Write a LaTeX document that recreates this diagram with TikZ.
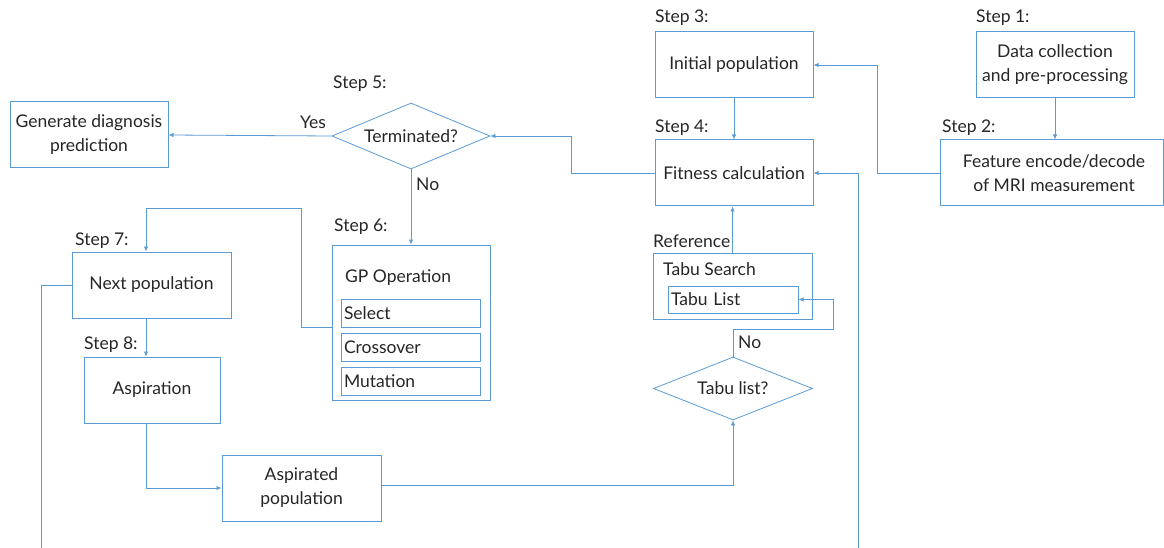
\documentclass[tikz,border=0pt]{standalone}
\usepackage{fontspec}
\setmainfont{Lato}
\usetikzlibrary{shapes.geometric,arrows.meta,calc}
\definecolor{ln}{HTML}{5B9BD5}
\definecolor{tx}{HTML}{262626}
\begin{document}
\begin{tikzpicture}[x=1pt,y=-1pt,
  every node/.style={text=tx,font=\fontsize{17.5}{24}\selectfont},
  box/.style={draw=ln,line width=1pt,inner sep=1pt,align=center},
  sub/.style={draw=ln,line width=1pt,inner sep=3pt,minimum width=139pt,minimum height=28pt,text width=133pt,align=left},
  dia/.style={draw=ln,line width=0.8pt,diamond,aspect=2.4,inner sep=0pt},
  lab/.style={inner sep=0pt,anchor=west},
  arr/.style={draw=ln,line width=0.8pt,-{Latex[length=5pt,width=4.5pt]}},
  con/.style={draw=ln,line width=0.8pt}]
\useasboundingbox (0,0) rectangle (1164,548);
\clip (0,0) rectangle (1164,548);
% nodes
\node[box,minimum width=158pt,minimum height=66pt] (gen) at (89,135) {Generate diagnosis\\prediction};
\node[dia,minimum width=158pt,minimum height=66pt] (term) at (411,136) {Terminated?};
\node[box,minimum width=158pt,minimum height=66pt] (initp) at (734,65) {Initial population};
\node[box,minimum width=158pt,minimum height=66pt] (data) at (1055,65) {Data collection\\and pre-processing};
\node[box,minimum width=223pt,minimum height=66pt] (feat) at (1051.5,173) {\hspace*{5pt}Feature encode/decode\\\hspace*{5pt}of MRI measurement};
\node[box,minimum width=158pt,minimum height=66pt] (fit) at (734,173) {Fitness calculation};
\node[box,minimum width=159pt,minimum height=66pt] (tabu) at (732.5,286) {};
\node[lab] (tabut) at (663,269) {Tabu Search};
\node[sub,minimum width=130pt,minimum height=27pt,text width=124pt] (tl) at (733,299.5) {Tabu List};
\node[dia,minimum width=159pt,minimum height=63pt] (tabuq) at (733,388.5) {Tabu list?};
\node[box,minimum width=158pt,minimum height=155pt] (gp) at (411,322.5) {};
\node[lab] (gpt) at (345,278) {GP Operation};
\node[sub] (sel) at (410.5,313) {Select};
\node[sub] (cro) at (410.5,347) {Crossover};
\node[sub] (mut) at (410.5,381) {Mutation};
\node[box,minimum width=159pt,minimum height=66pt] (next) at (151.5,285) {Next population};
\node[box,minimum width=136pt,minimum height=66pt] (asp) at (152,390) {Aspiration};
\node[box,minimum width=159pt,minimum height=66pt] (aspd) at (301.5,488) {Aspirated\\population};
% labels
\node[lab] (s1) at (976,18) {Step 1:};
\node[lab] (s2) at (942,128) {Step 2:};
\node[lab] (s3) at (655,18) {Step 3:};
\node[lab] (s4) at (655,128) {Step 4:};
\node[lab] (s5) at (333,84) {Step 5:};
\node[lab] (s6) at (334,227) {Step 6:};
\node[lab] (s7) at (75,241) {Step 7:};
\node[lab] (s8) at (84,345) {Step 8:};
\node[lab] (ref) at (653,241) {Reference};
\node[lab] (yes) at (300,122) {Yes};
\node[lab] (no1) at (416,184) {No};
\node[lab] (no2) at (738,342) {No};
% coordinates
\coordinate (c1) at (301,208);
\coordinate (c2) at (833,329);
\coordinate (c3) at (858,560);
\coordinate (c4) at (41,560);
% connectors
\draw[arr] (data.south) -- (data.south |- feat.north);
\draw[arr] (feat.west) -- ++(-62,0) |- (initp.east);
\draw[arr] (initp.south) -- (fit.north);
\draw[arr] (fit.west) -- ++(-83,0) |- (term.east);
\draw[arr] (term.west) -- (gen.east);
\draw[arr] (term.south) -- (gp.north);
\draw[arr] (gp.west |- sel.south) -- (c1 |- sel.south) -- (c1) -| ([xshift=-5.5pt]next.north);
\draw[con] (next.west) -| (c4);
\draw[arr] ([xshift=-5.5pt]next.south) -- ([xshift=-6pt]asp.north);
\draw[arr] ([xshift=-6pt]asp.south) |- (aspd.west);
\draw[arr] ([yshift=3pt]aspd.east) -| (tabuq.south);
\draw[arr] (tabuq.north) |- (c2) |- (tl.east);
\draw[arr] (tabu.north) -- (tabu.north |- fit.south);
\draw[arr] (c3) |- (fit.east);
\end{tikzpicture}
\end{document}
